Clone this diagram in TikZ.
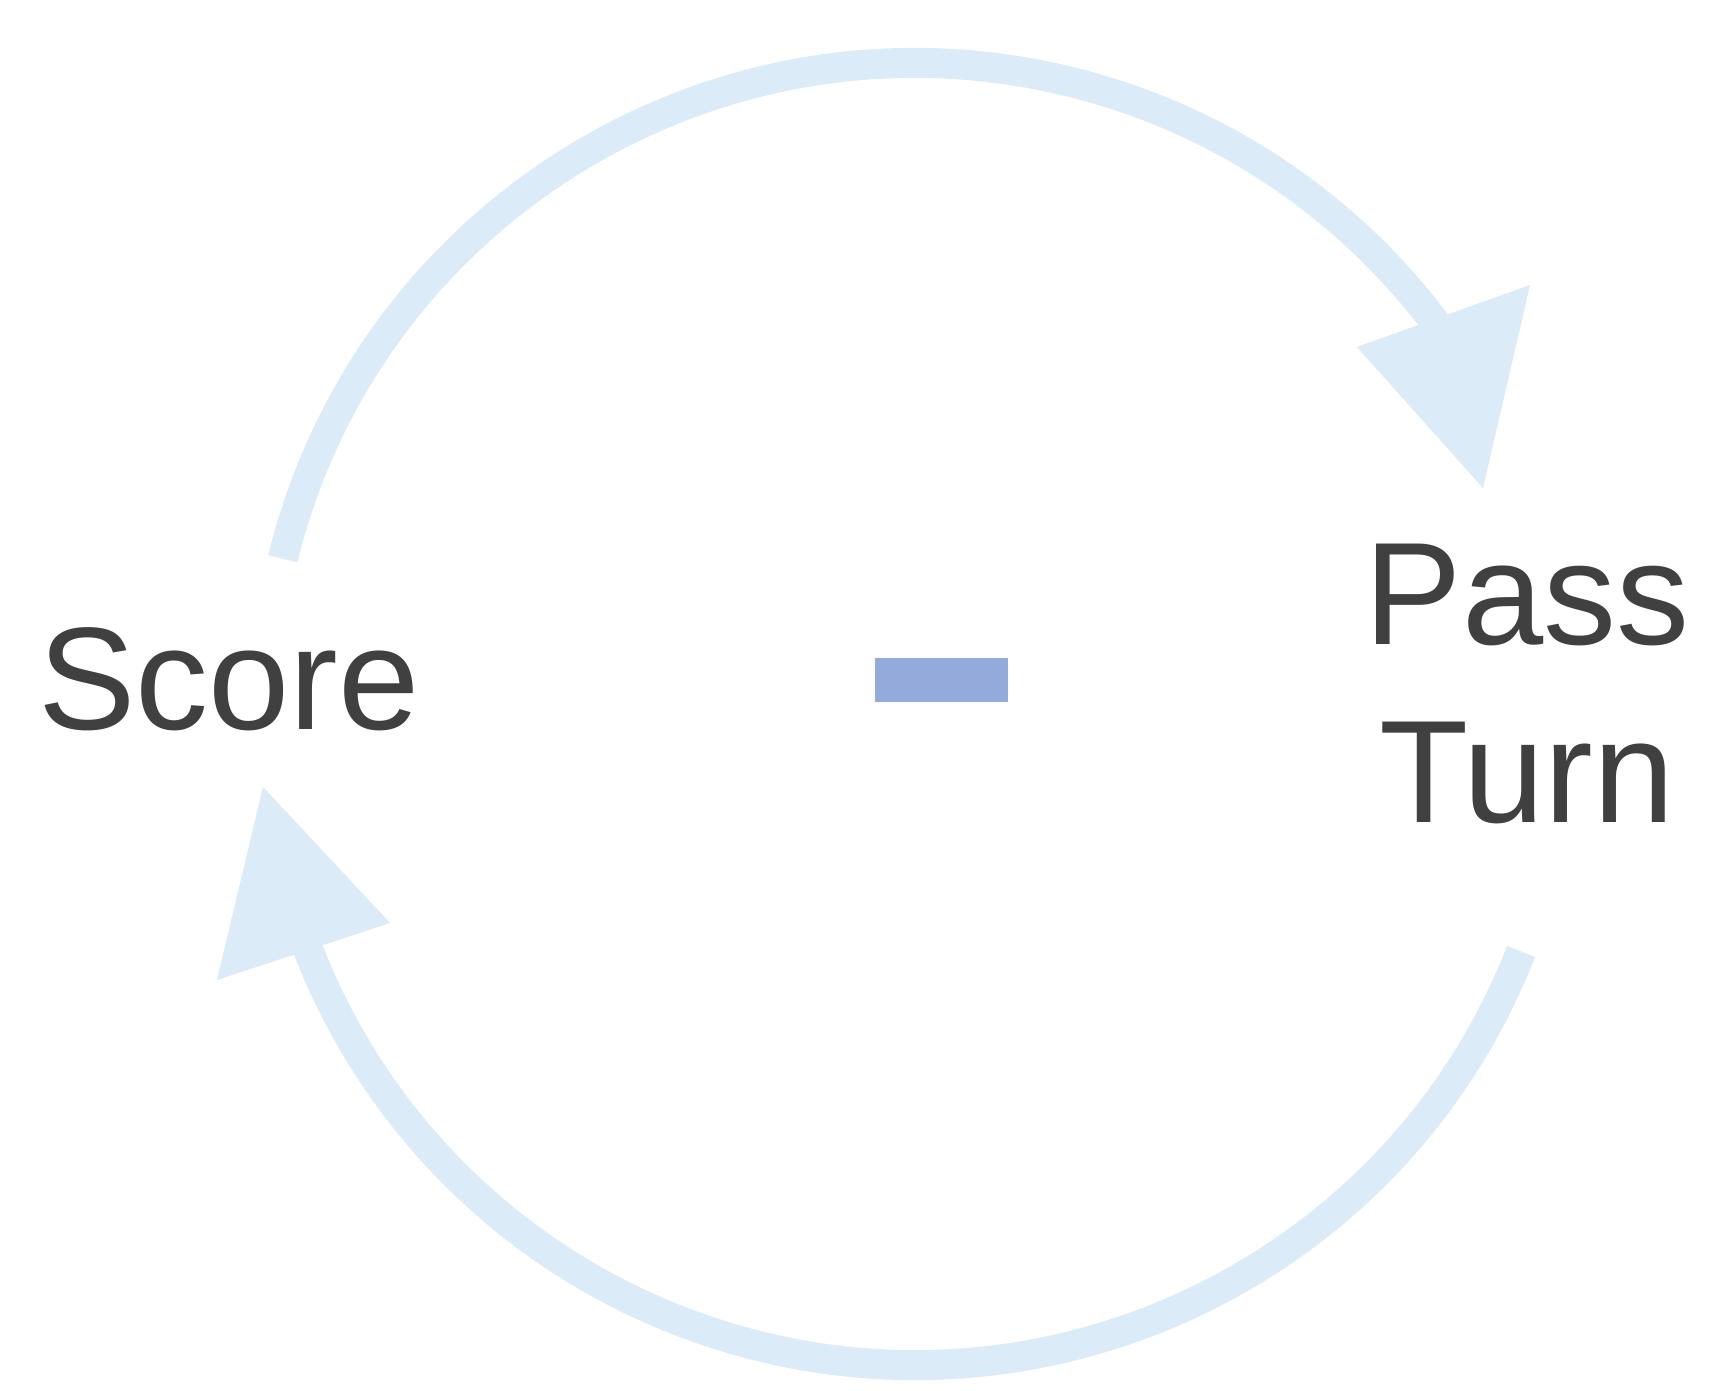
\documentclass[tikz,border=0pt]{standalone}
\usepackage{fontspec}
\setmainfont{Liberation Sans}
\usetikzlibrary{calc}
\definecolor{loopblue}{RGB}{219,235,248}
\definecolor{labelgray}{RGB}{64,64,64}
\definecolor{minusblue}{RGB}{148,170,218}
\begin{document}
\begin{tikzpicture}[x=1pt,y=1pt,
  word/.style={font=\fontsize{146}{178}\selectfont, text=labelgray, inner sep=0pt},
  loopband/.style={draw=loopblue, line width=30pt},
  loophead/.style={fill=loopblue}]
\useasboundingbox (0,0) rectangle (1726,1390);
\fill[white] (0,0) rectangle (1726,1390);

% centre of the cycle
\coordinate (c) at (915,676);

% labels and the sign in the middle
\node[word, anchor=base] (score) at (229,660) {Score};
\node[word, anchor=base, align=center] (pass) at (1527,567) {Pass\\Turn};
\node[fill=minusblue, minimum width=133pt, minimum height=44pt, inner sep=0pt] (minus) at (941.5,710) {};

% upper loop: Score -> Pass Turn
\coordinate (up-tail) at ($(c)+(166.2:651)$);
\coordinate (up-tip)  at (1483,902);
\coordinate (up-w1)   at (1357,1043);
\coordinate (up-w2)   at (1530,1105);
\draw[loopband] (up-tail) arc[start angle=166.2, end angle=35.5, radius=651];
\fill[loophead] (up-tip) -- (up-w1) -- (up-w2) -- cycle;

% lower loop: Pass Turn -> Score
\coordinate (lo-tail) at ($(c)+(-21.4:651)$);
\coordinate (lo-tip)  at (263,603);
\coordinate (lo-w1)   at (217,410);
\coordinate (lo-w2)   at (390,467);
\draw[loopband] (lo-tail) arc[start angle=-21.4, end angle=-160.0, radius=651];
\fill[loophead] (lo-tip) -- (lo-w1) -- (lo-w2) -- cycle;
\end{tikzpicture}
\end{document}
